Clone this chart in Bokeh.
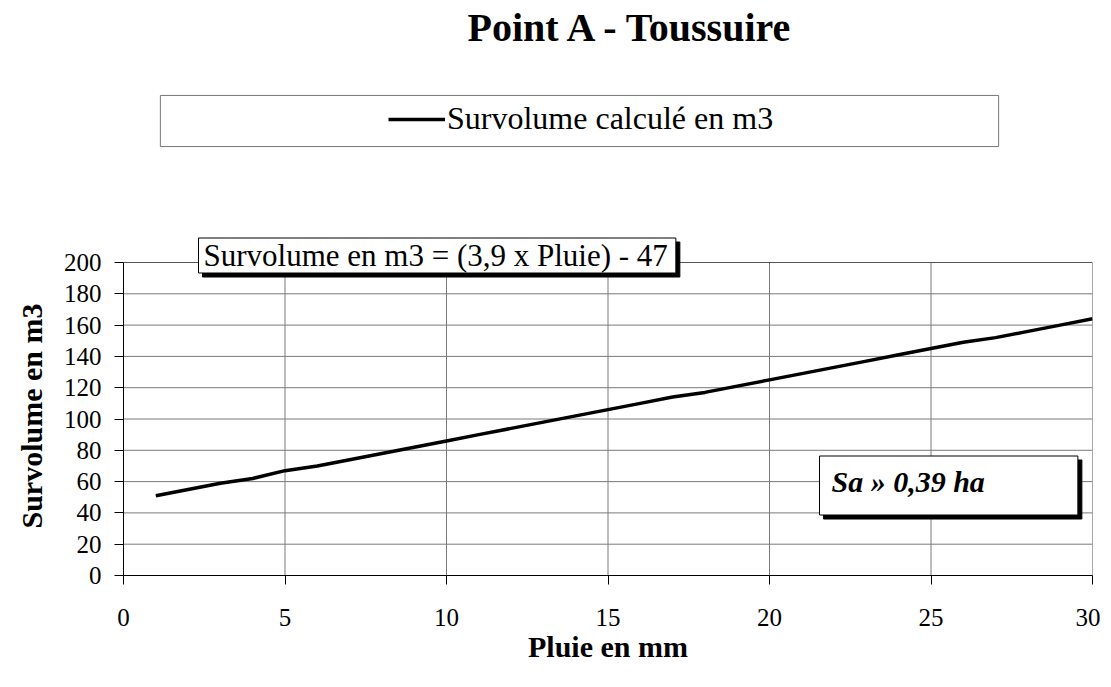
from bokeh.plotting import figure
from bokeh.models import Range1d, Label, Legend, LegendItem, FixedTicker, Title
from bokeh.embed import file_html
from bokeh.resources import INLINE

pluie = list(range(1, 31))
survolume = [51, 55, 59, 62, 67, 70, 74, 78, 82, 86,
             90, 94, 98, 102, 106, 110, 114, 117, 121, 125,
             129, 133, 137, 141, 145, 149, 152, 156, 160, 164]
x_ticks = [0, 5, 10, 15, 20, 25, 30]
y_ticks = list(range(0, 201, 20))

FONT = "Liberation Serif"

W, H = 1100, 678
FRAME_H = 575           # frame from canvas top down to the x axis
PLOT_TOP_PX = 262       # where y=200 sits inside the canvas
y_top = max(y_ticks) * FRAME_H / (FRAME_H - PLOT_TOP_PX)

p = figure(width=W, height=H, output_backend="svg", toolbar_location=None,
           x_range=Range1d(min(x_ticks), max(x_ticks)), y_range=Range1d(0, y_top),
           min_border_left=123, min_border_right=W - 1092,
           min_border_top=0, min_border_bottom=H - FRAME_H)
p.background_fill_color = "white"
p.border_fill_color = "white"
p.outline_line_color = None
p.xgrid.visible = False
p.ygrid.visible = False

# grid lines restricted to the data box
gx = x_ticks[1:-1]
p.segment(x0=gx, y0=[min(y_ticks)] * len(gx), x1=gx, y1=[max(y_ticks)] * len(gx),
          line_color="#7a7a7a", line_width=1)
gy = y_ticks[1:-1]
p.segment(x0=[min(x_ticks)] * len(gy), y0=gy, x1=[max(x_ticks)] * len(gy), y1=gy,
          line_color="#7a7a7a", line_width=1)
# plot area border
p.quad(left=[min(x_ticks)], right=[max(x_ticks)], bottom=[min(y_ticks)], top=[max(y_ticks)],
       fill_color=None, line_color="#555555", line_width=1)

line = p.line(pluie, survolume, line_color="black", line_width=3.5)

for ax in (p.xaxis[0], p.yaxis[0]):
    ax.major_label_text_font = FONT
    ax.major_label_text_font_size = "25px"
    ax.major_label_text_color = "black"
    ax.axis_label_text_font = FONT
    ax.axis_label_text_font_size = "30px"
    ax.axis_label_text_font_style = "bold"
    ax.axis_label_text_color = "black"
    ax.axis_line_color = "black"
    ax.major_tick_line_color = "black"
    ax.major_tick_out = 9
    ax.major_tick_in = 0
    ax.minor_tick_line_color = None

p.xaxis.ticker = FixedTicker(ticks=x_ticks)
p.yaxis.ticker = FixedTicker(ticks=y_ticks)
p.yaxis.bounds = (min(y_ticks), max(y_ticks))
p.xaxis.axis_label = "Pluie en mm"
p.xaxis.major_label_standoff = 24
p.xaxis.axis_label_standoff = 1
p.yaxis.major_label_standoff = 13

# y axis title, placed along the 0-200 part of the axis
p.add_layout(Title(text="Survolume en m3", align="left", offset=47,
                   text_font=FONT, text_font_size="30px", text_font_style="bold",
                   text_color="black", standoff=25), "left")

# pixel -> data helpers for annotation placement (canvas pixel coords)
def dx(px):
    return (px - 123) / 969 * 30

def dy(py):
    return (575 - py) / 1.565

# Legend frame (padding order: left, right, top, bottom)
p.add_layout(Label(x=dx(579), y=dy(120.5), text=" ", text_font_size="1px",
                   text_align="center", text_baseline="middle",
                   background_fill_color="white", border_line_color="#777777",
                   border_line_width=1, padding=(419, 419, 25, 25)))

# Title
p.add_layout(Label(x=dx(631), y=dy(27), text="Point A - Toussuire",
                   text_font=FONT, text_font_size="40px", text_font_style="bold",
                   text_align="center", text_baseline="middle", text_color="black"))

legend = Legend(items=[LegendItem(label="Survolume calculé en m3", renderers=[line])],
                location=(265, 438), orientation="horizontal",
                label_text_font=FONT, label_text_font_size="32px",
                label_text_color="black",
                glyph_width=57, glyph_height=34, label_standoff=2,
                label_height=34, padding=0, margin=0, spacing=0,
                border_line_alpha=0, background_fill_alpha=0)
p.add_layout(legend, "center")

# Equation box with shadow
eq_text = "Survolume en m3 = (3,9 x Pluie) - 47"
for shadow in (True, False):
    p.add_layout(Label(x=dx(198), y=dy(255), text=eq_text, text_font=FONT,
                       text_font_size="31px", text_align="left", text_baseline="middle",
                       text_color="black",
                       background_fill_color="black" if shadow else "white",
                       border_line_color="black", border_line_width=1,
                       padding=(5, 8, 0, 0),
                       x_offset=4 if shadow else 0, y_offset=-4 if shadow else 0))

# Surface box with shadow
sa_text = "Sa » 0,39 ha"
for shadow in (True, False):
    p.add_layout(Label(x=dx(819), y=dy(485), text=sa_text, text_font=FONT,
                       text_font_size="30px", text_font_style="bold italic",
                       text_align="left", text_baseline="middle",
                       text_color="black",
                       background_fill_color="black" if shadow else "white",
                       border_line_color="black", border_line_width=1,
                       padding=(12, 93, 9, 17),
                       x_offset=4 if shadow else 0, y_offset=-4 if shadow else 0))

open("out.html", "w").write(file_html(p, INLINE))
